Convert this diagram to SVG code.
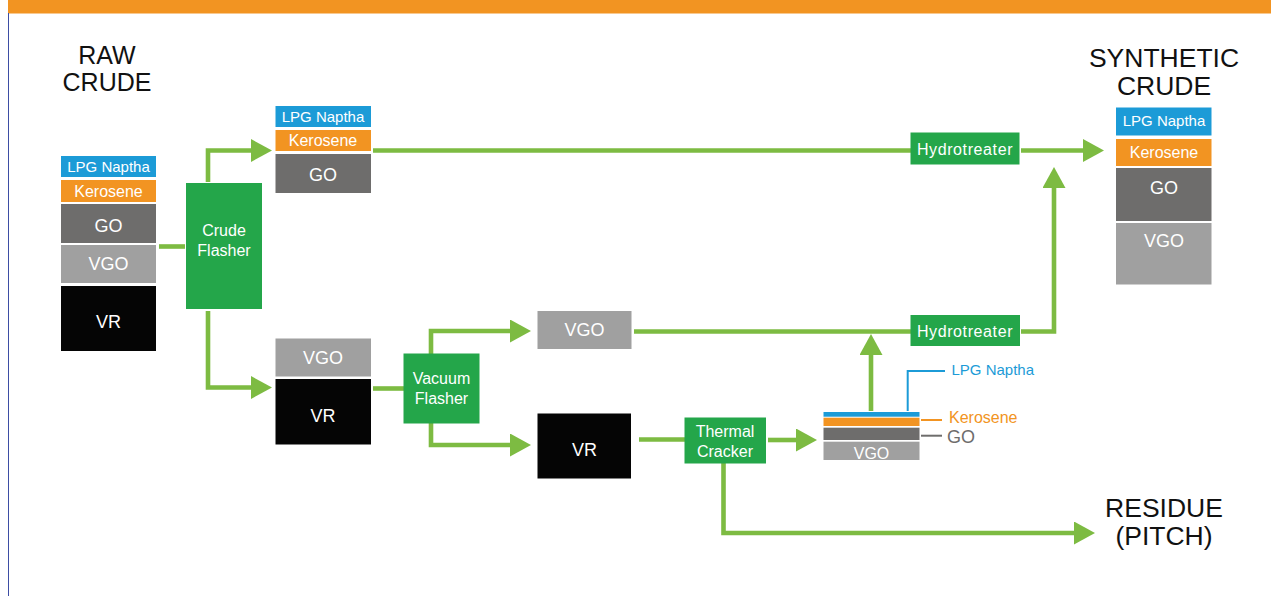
<svg xmlns="http://www.w3.org/2000/svg" width="1271" height="596" viewBox="0 0 1271 596">
<style>
text{font-family:"Liberation Sans",Arial,sans-serif;}
.t{fill:#fff;text-anchor:middle;}
.s15{font-size:15px;}
.s16{font-size:16px;}
.s18{font-size:18px;}
.title{font-size:26.5px;fill:#111;text-anchor:middle;}
.blue{fill:#1c9bd7;}
.orange{fill:#f29422;}
.dgray{fill:#6e6d6c;}
.lgray{fill:#a0a0a0;}
.black{fill:#050505;}
.green{fill:#24a64a;}
.conn{fill:none;stroke:#7dbb42;stroke-width:4.6;}
.arr{marker-end:url(#ah);}
</style>
<defs>
<marker id="ah" markerUnits="userSpaceOnUse" markerWidth="22" markerHeight="24" refX="1" refY="11.5" orient="auto">
<path d="M0,0 L21,11.5 L0,23 z" fill="#7dbb42"/>
</marker>
</defs>
<rect width="1271" height="596" fill="#fff"/>
<rect x="8" y="0" width="1263" height="13.5" fill="#f29422"/>
<line x1="8.5" y1="13" x2="8.5" y2="596" stroke="#3d4da3" stroke-width="1"/>

<g id="connectors">
<path class="conn" d="M159,246.5 H185"/>
<path class="conn arr" d="M208,182 V150.5 H252"/>
<path class="conn arr" d="M208,311 V387.5 H252"/>
<path class="conn" d="M373,150.5 H911"/>
<path class="conn" d="M373,388.5 H404"/>
<path class="conn arr" d="M431,354 V331 H511"/>
<path class="conn arr" d="M431,422 V445 H511"/>
<path class="conn" d="M634,331.5 H911"/>
<path class="conn" d="M639,439.5 H685"/>
<path class="conn arr" d="M768,440 H797"/>
<path class="conn arr" d="M871,411 V354"/>
<path class="conn arr" d="M1021,150.5 H1084"/>
<path class="conn arr" d="M1021,331.5 H1054 V187"/>
<path class="conn arr" d="M723.5,463 V533 H1075"/>
</g>

<g id="raw-crude">
<text class="title" style="font-size:25px"><tspan x="107" y="64">RAW</tspan><tspan x="107" y="91">CRUDE</tspan></text>
<rect class="blue" x="61" y="156" width="95" height="21"/>
<text class="t s15" x="108.5" y="172">LPG Naptha</text>
<rect class="orange" x="61" y="180" width="95" height="22"/>
<text class="t s16" x="108.5" y="196.5">Kerosene</text>
<rect class="dgray" x="61" y="204" width="95" height="39"/>
<text class="t s18" x="108.5" y="231.5">GO</text>
<rect class="lgray" x="61" y="245" width="95" height="38"/>
<text class="t s18" x="108.5" y="270">VGO</text>
<rect class="black" x="61" y="286" width="95" height="65"/>
<text class="t s18" x="108.5" y="328">VR</text>
</g>

<g id="crude-flasher">
<rect class="green" x="186" y="183" width="76" height="126"/>
<text class="t s16"><tspan x="224" y="235.5">Crude</tspan><tspan x="224" y="255.5">Flasher</tspan></text>
</g>

<g id="light-cuts">
<rect class="blue" x="275.5" y="106" width="95.5" height="21"/>
<text class="t s15" x="323" y="121.5">LPG Naptha</text>
<rect class="orange" x="275.5" y="130" width="95.5" height="21"/>
<text class="t s16" x="323" y="146">Kerosene</text>
<rect class="dgray" x="275.5" y="154" width="95.5" height="39"/>
<text class="t s18" x="323" y="181">GO</text>
</g>

<g id="heavy-cuts">
<rect class="lgray" x="275.5" y="338.5" width="95.5" height="38"/>
<text class="t s18" x="323" y="363.5">VGO</text>
<rect class="black" x="275.5" y="379" width="95.5" height="65.5"/>
<text class="t s18" x="323" y="421.5">VR</text>
</g>

<g id="vacuum-flasher">
<rect class="green" x="403.5" y="353.5" width="76" height="70"/>
<text class="t s16"><tspan x="441.5" y="383.5">Vacuum</tspan><tspan x="441.5" y="403.5">Flasher</tspan></text>
</g>

<g id="vgo">
<rect class="lgray" x="537.5" y="311" width="94" height="38"/>
<text class="t s18" x="584.5" y="336">VGO</text>
</g>

<g id="vr">
<rect class="black" x="537.5" y="413.5" width="93.5" height="65"/>
<text class="t s18" x="584.5" y="455.5">VR</text>
</g>

<g id="thermal-cracker">
<rect class="green" x="684.5" y="417.5" width="81.5" height="46"/>
<text class="t s16"><tspan x="725" y="436.5">Thermal</tspan><tspan x="725" y="456.5">Cracker</tspan></text>
</g>

<g id="cracked-products">
<rect class="blue" x="823.5" y="412" width="96" height="4.7"/>
<rect class="orange" x="823.5" y="417.7" width="96" height="8.3"/>
<rect class="dgray" x="823.5" y="427.7" width="96" height="12.3"/>
<rect class="lgray" x="823.5" y="441.7" width="96" height="18.3"/>
<text class="t s16" x="871.5" y="459">VGO</text>
<path d="M907.7,411 V371 H945" fill="none" stroke="#1c9bd7" stroke-width="2"/>
<path d="M921,420 H942" fill="none" stroke="#f29422" stroke-width="2"/>
<path d="M921,435.7 H942" fill="none" stroke="#6e6d6c" stroke-width="2"/>
<text class="s15 blue" x="951.5" y="375.3">LPG Naptha</text>
<text class="s16 orange" x="949" y="423.3">Kerosene</text>
<text class="s18 dgray" x="947" y="443.3">GO</text>
</g>

<g id="hydrotreater-1">
<rect class="green" x="910.5" y="132.5" width="109" height="32"/>
<text class="t s16" x="965" y="155" letter-spacing="0.6">Hydrotreater</text>
</g>

<g id="hydrotreater-2">
<rect class="green" x="910.5" y="315" width="109.5" height="31"/>
<text class="t s16" x="965" y="336.7" letter-spacing="0.6">Hydrotreater</text>
</g>

<g id="synthetic-crude">
<text class="title"><tspan x="1164" y="66.7">SYNTHETIC</tspan><tspan x="1164" y="95">CRUDE</tspan></text>
<rect class="blue" x="1116" y="107.5" width="95.5" height="28"/>
<text class="t s15" x="1164" y="126">LPG Naptha</text>
<rect class="orange" x="1116" y="139" width="95.5" height="27"/>
<text class="t s16" x="1164" y="157.5">Kerosene</text>
<rect class="dgray" x="1116" y="168" width="95.5" height="53"/>
<text class="t s18" x="1164" y="194">GO</text>
<rect class="lgray" x="1116" y="223" width="95.5" height="61.5"/>
<text class="t s18" x="1164" y="246.7">VGO</text>
</g>

<g id="residue">
<text class="title"><tspan x="1164" y="516.7">RESIDUE</tspan><tspan x="1164" y="545">(PITCH)</tspan></text>
</g>
</svg>
